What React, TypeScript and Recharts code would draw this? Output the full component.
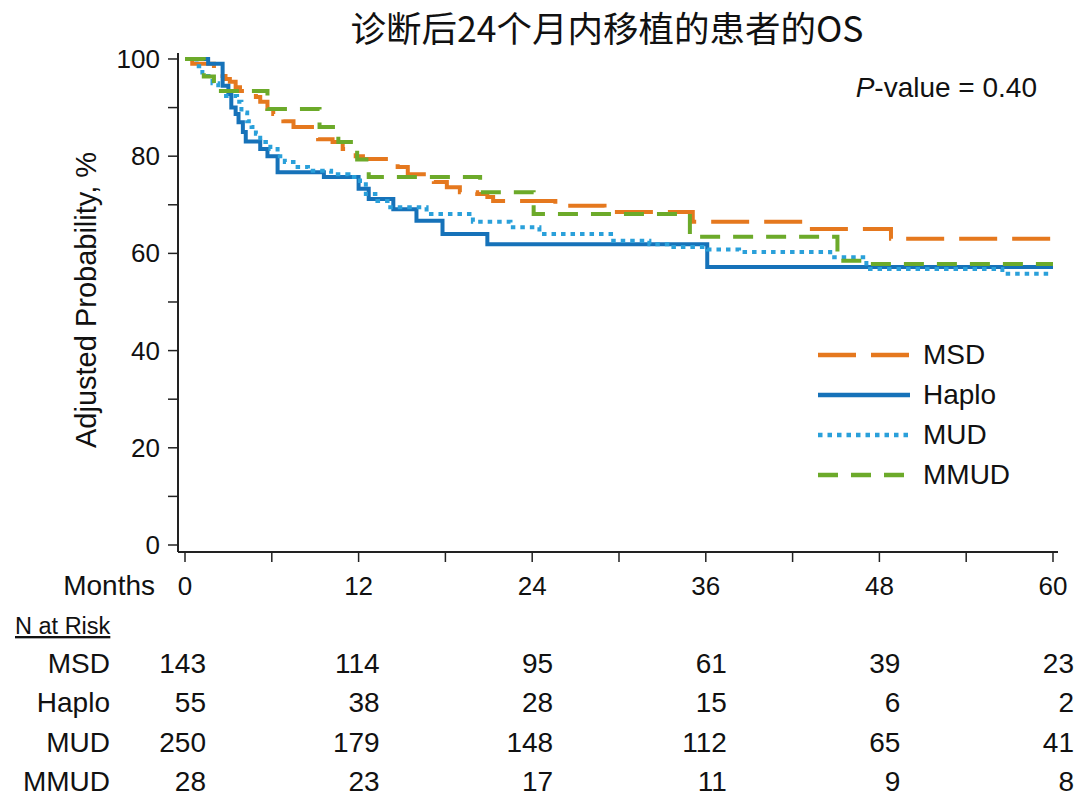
import { LineChart, Line, XAxis, YAxis, Legend } from 'recharts';

// survival curves (months, adjusted probability %)
const msdTime = [0, 0.5, 2.0, 2.6, 2.8, 3.1, 3.5, 3.8, 4.9, 5.2, 5.7, 6.1, 6.8, 7.5, 9.2, 10.2, 10.9, 11.8, 12.3, 14.7, 15.4, 17.2, 18.1, 19.0, 20.2, 20.9, 21.3, 25.6, 29.0, 35.1, 42.8, 48.8, 60];
const msdSurv = [100, 99, 98, 96.5, 95.9, 95.3, 94.2, 93.4, 92.2, 91.2, 89.7, 88.7, 87.2, 86, 83.5, 82.9, 81.5, 80, 79.4, 77.8, 76.3, 74.7, 73.6, 72.6, 72.2, 71.6, 70.8, 69.8, 68.5, 66.5, 65, 63, 63];

const haploTime = [0, 1.6, 2.6, 3.0, 3.2, 3.5, 3.7, 4.0, 4.2, 5.2, 5.7, 6.4, 9.6, 12.0, 12.7, 14.4, 16.0, 17.8, 20.9, 36.1, 60];
const haploSurv = [100, 99, 94.5, 92.8, 90, 88.7, 87, 85, 83, 81.5, 80, 76.7, 75.7, 73.3, 71.2, 69.1, 66.7, 64, 61.9, 57.2, 57.2];

const mudTime = [0, 0.8, 1.2, 1.9, 2.3, 2.6, 3.6, 3.9, 4.3, 4.6, 4.9, 5.2, 5.9, 6.4, 6.9, 7.5, 8.5, 10.1, 11.3, 12.1, 12.5, 13.3, 14.0, 16.7, 19.9, 22.5, 24.5, 29.6, 32.1, 33.5, 36.1, 38.3, 44.6, 47.1, 56.5, 60];
const mudSurv = [100, 98.5, 96.5, 95, 93.4, 92.4, 91.2, 89, 87.2, 86, 84.6, 82.9, 81.5, 80, 78.8, 77.8, 77, 76.3, 75.7, 74.9, 72.2, 70.8, 69.5, 68.1, 66.5, 65.4, 64, 62.6, 61.9, 61.3, 60.8, 60.3, 59.2, 56.8, 55.8, 55.8];

const mmudTime = [0, 1.3, 2.0, 5.7, 9.3, 10.6, 11.9, 12.7, 20.4, 24.1, 34.9, 45.1, 47.0, 60];
const mmudSurv = [100, 96.4, 93.4, 89.7, 86, 82.9, 79.3, 75.7, 72.6, 68.1, 63.4, 58.5, 57.8, 57.8];

// number at risk table
const riskMonths = [0, 12, 24, 36, 48, 60];
const riskMSD = [143, 114, 95, 61, 39, 23];
const riskHaplo = [55, 38, 28, 15, 6, 2];
const riskMUD = [250, 179, 148, 112, 65, 41];
const riskMMUD = [28, 23, 17, 11, 9, 8];

const xTicks = [0, 6, 12, 18, 24, 30, 36, 42, 48, 54, 60];
const yTicks = [0, 10, 20, 30, 40, 50, 60, 70, 80, 90, 100];

const toRows = (t: number[], s: number[]) => t.map((m, i) => ({ t: m, v: s[i] }));

const series = [
  { name: 'MSD', data: toRows(msdTime, msdSurv), color: '#E5781E', dash: '38 15' },
  { name: 'Haplo', data: toRows(haploTime, haploSurv), color: '#1672B9', dash: undefined },
  { name: 'MUD', data: toRows(mudTime, mudSurv), color: '#2AA0DA', dash: '4.5 5' },
  { name: 'MMUD', data: toRows(mmudTime, mmudSurv), color: '#6CAA2A', dash: '20 13' },
];

const riskRows = [
  { name: 'MSD', values: riskMSD },
  { name: 'Haplo', values: riskHaplo },
  { name: 'MUD', values: riskMUD },
  { name: 'MMUD', values: riskMMUD },
];

const FONT = '"Liberation Sans", Arial, Helvetica, sans-serif';
const W = 1080;
const H = 796;
const X_DOMAIN: [number, number] = [-0.484, 60.346];
const Y_DOMAIN: [number, number] = [-1.44, 101.23];
const PLOT_LEFT = 178;
const PLOT_RIGHT = 1058;
const AXIS = '#222';

const xPix = (t: number) =>
  PLOT_LEFT + ((t - X_DOMAIN[0]) / (X_DOMAIN[1] - X_DOMAIN[0])) * (PLOT_RIGHT - PLOT_LEFT);

const XTick = ({ x, y, payload }: any) =>
  payload.value % 12 === 0 ? (
    <text x={x} y={y} dy={33} textAnchor="middle" fontSize={26} fontFamily={FONT} fill="#111">
      {payload.value}
    </text>
  ) : (
    <g />
  );

const YTick = ({ x, y, payload }: any) =>
  payload.value % 20 === 0 ? (
    <text x={x} y={y} dy={9} textAnchor="end" fontSize={26} fontFamily={FONT} fill="#111">
      {payload.value}
    </text>
  ) : (
    <g />
  );

const LegendBox = () => (
  <div>
    {series.map((s) => (
      <div key={s.name} style={{ display: 'flex', alignItems: 'center', height: 40 }}>
        <svg width={108} height={40}>
          <line x1={3} x2={95} y1={20} y2={20} stroke={s.color} strokeWidth={4.5} strokeDasharray={s.dash} />
        </svg>
        <span style={{ fontFamily: FONT, fontSize: 28, color: '#111' }}>{s.name}</span>
      </div>
    ))}
  </div>
);

export default function App() {
  return (
    <div style={{ position: 'absolute', left: 0, top: 0, width: W, height: H, background: '#fff' }}>
      <LineChart width={W} height={H} margin={{ top: 53, right: 22, bottom: 196, left: 78 }}>
        <XAxis
          dataKey="t"
          type="number"
          domain={X_DOMAIN}
          allowDataOverflow
          ticks={xTicks}
          tick={XTick}
          tickSize={10}
          tickMargin={0}
          height={48}
          axisLine={{ stroke: AXIS, strokeWidth: 2 }}
          tickLine={{ stroke: AXIS, strokeWidth: 1.5 }}
        />
        <XAxis xAxisId="top" orientation="top" type="number" domain={X_DOMAIN} height={0} tick={false} tickLine={false} axisLine={{ stroke: AXIS, strokeWidth: 2 }} />
        <YAxis
          type="number"
          domain={Y_DOMAIN}
          allowDataOverflow
          ticks={yTicks}
          tick={YTick}
          tickSize={10}
          tickMargin={8}
          width={100}
          axisLine={{ stroke: AXIS, strokeWidth: 2 }}
          tickLine={{ stroke: AXIS, strokeWidth: 1.5 }}
        />
        <YAxis yAxisId="right" orientation="right" type="number" domain={Y_DOMAIN} width={0} tick={false} tickLine={false} axisLine={{ stroke: AXIS, strokeWidth: 2 }} />
        {series.map((s) => (
          <Line
            key={s.name}
            data={s.data}
            dataKey="v"
            name={s.name}
            type="stepAfter"
            stroke={s.color}
            strokeWidth={4}
            strokeDasharray={s.dash}
            dot={false}
            activeDot={false}
            isAnimationActive={false}
          />
        ))}
        <Legend
          layout="vertical"
          align="center"
          verticalAlign="middle"
          content={LegendBox}
          wrapperStyle={{ left: 815, top: 335, width: 230 }}
        />
      </LineChart>

      <svg width={W} height={H} style={{ position: 'absolute', left: 0, top: 0, pointerEvents: 'none' }}>
        <text x={607} y={42} textAnchor="middle" fontSize={35.5} fontFamily='"Noto Sans CJK SC", sans-serif' fill="#111">
          诊断后24个月内移植的患者的OS
        </text>
        <text x={1037} y={97} textAnchor="end" fontSize={28} fontFamily={FONT} fill="#111">
          <tspan fontStyle="italic">P</tspan>-value = 0.40
        </text>
        <text
          x={0}
          y={0}
          transform="translate(96 300) rotate(-90)"
          textAnchor="middle"
          fontSize={29}
          fontFamily={FONT}
          fill="#111"
        >
          Adjusted Probability, %
        </text>
        <text x={155} y={595} textAnchor="end" fontSize={28} fontFamily={FONT} fill="#111">
          Months
        </text>
        <text x={15} y={634} fontSize={23.5} fontFamily={FONT} fill="#111" textDecoration="underline">
          N at Risk
        </text>
        {riskRows.map((r, ri) => (
          <g key={r.name}>
            <text x={110} y={673 + ri * 39.3} textAnchor="end" fontSize={28} fontFamily={FONT} fill="#111">
              {r.name}
            </text>
            {r.values.map((n, ci) => (
              <text
                key={ci}
                x={xPix(riskMonths[ci]) + 21}
                y={673 + ri * 39.3}
                textAnchor="end"
                fontSize={28}
                fontFamily={FONT}
                fill="#111"
              >
                {n}
              </text>
            ))}
          </g>
        ))}
      </svg>
    </div>
  );
}
